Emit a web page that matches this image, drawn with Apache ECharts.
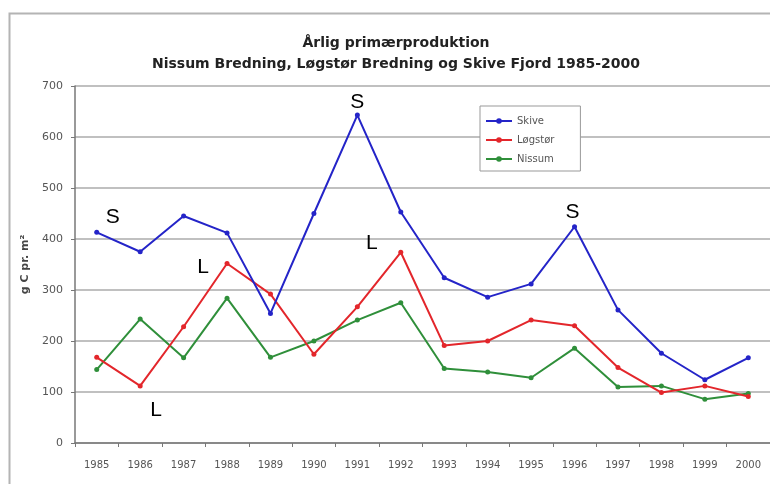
<!DOCTYPE html>
<html>
<head>
<meta charset="utf-8">
<script src="https://cdn.jsdelivr.net/npm/echarts@6/dist/echarts.min.js"></script>
<style>html,body{margin:0;padding:0;background:#fff}#c{width:770px;height:484px}</style>
</head>
<body>
<div id="c"></div>
<script>
const years = ['1985','1986','1987','1988','1989','1990','1991','1992','1993','1994','1995','1996','1997','1998','1999','2000'];
const skive   = [413, 375, 445, 412, 254, 450, 643, 453, 324, 286, 312, 424, 261, 176, 124, 167];
const logstor = [168, 112, 228, 352, 292, 174, 267, 374, 191, 200, 241, 230, 148, 99, 112, 91];
const nissum  = [144, 243, 167, 284, 168, 200, 241, 275, 146, 139, 128, 186, 110, 112, 86, 97];
const yTicks = [0, 100, 200, 300, 400, 500, 600, 700];
// annotation letters attached to data points
const skiveNotes   = {0: 'S', 6: 'S', 11: 'S'};
const logstorNotes = {1: 'L', 3: 'L', 7: 'L'};
const noteOffsets = {
  skive: {0: [16, -15], 6: [0, -13], 11: [-2, -15]},
  logstor: {1: [16, 24], 3: [-24, 4], 7: [-29, -9]}
};
const noteStyle = {show: true, position: 'inside', fontSize: 21, color: '#000', fontFamily: 'Liberation Sans, Arial, sans-serif'};
function build(values, notes, offs) {
  return values.map((v, i) => notes[i] ? {value: v, label: Object.assign({}, noteStyle, {formatter: notes[i], offset: offs[i]})} : v);
}
const chart = echarts.init(document.getElementById('c'), null, {renderer: 'canvas'});
const font = 'DejaVu Sans, sans-serif';
chart.setOption({
  animation: false,
  backgroundColor: '#fff',
  textStyle: {fontFamily: font},
  title: {
    text: 'Årlig primærproduktion\nNissum Bredning, Løgstør Bredning og Skive Fjord 1985-2000',
    left: 391, top: 28, textAlign: 'center',
    textStyle: {fontSize: 14, fontWeight: 'bold', color: '#222', lineHeight: 21, fontFamily: font}
  },
  graphic: [{type: 'rect', left: 7, top: 11, shape: {width: 800, height: 500}, style: {fill: 'none', stroke: '#b4b4b4', lineWidth: 2}, silent: true, z: -10}],
  legend: {
    orient: 'vertical', left: 480, top: 106,
    itemWidth: 26, itemHeight: 7, itemGap: 9,
    padding: [10, 26, 7, 5],
    backgroundColor: '#fff', borderColor: '#999', borderWidth: 1,
    textStyle: {fontSize: 10, color: '#555', fontFamily: font},
    data: ['Skive', 'Løgstør', 'Nissum']
  },
  grid: {left: 75, right: -1, top: 86, bottom: 41},
  xAxis: {
    type: 'category', data: years, boundaryGap: true,
    axisLine: {lineStyle: {color: '#777', width: 1.5}},
    axisTick: {show: true, length: 4, inside: false, lineStyle: {color: '#777'}},
    axisLabel: {fontSize: 10, color: '#555', margin: 17, interval: 0}
  },
  yAxis: {
    type: 'value', min: yTicks[0], max: yTicks[yTicks.length - 1], interval: 100,
    name: 'g C pr. m²', nameLocation: 'middle', nameGap: 44, nameRotate: 90,
    nameTextStyle: {fontSize: 11, fontWeight: 'bold', color: '#444'},
    axisLine: {show: true, lineStyle: {color: '#777', width: 1.5}},
    axisTick: {show: true, length: 4, lineStyle: {color: '#777'}},
    axisLabel: {fontSize: 11, color: '#555', margin: 12},
    splitLine: {lineStyle: {color: '#ababab', width: 1.6}}
  },
  series: [
    {name: 'Skive', type: 'line', data: build(skive, skiveNotes, noteOffsets.skive), color: '#2424c8',
     symbol: 'circle', symbolSize: 5, lineStyle: {width: 2}, z: 3},
    {name: 'Løgstør', type: 'line', data: build(logstor, logstorNotes, noteOffsets.logstor), color: '#e3262b',
     symbol: 'circle', symbolSize: 5, lineStyle: {width: 2}, z: 2},
    {name: 'Nissum', type: 'line', data: nissum, color: '#2f8f3a',
     symbol: 'circle', symbolSize: 5, lineStyle: {width: 2}, z: 1}
  ]
});
</script>
</body>
</html>
